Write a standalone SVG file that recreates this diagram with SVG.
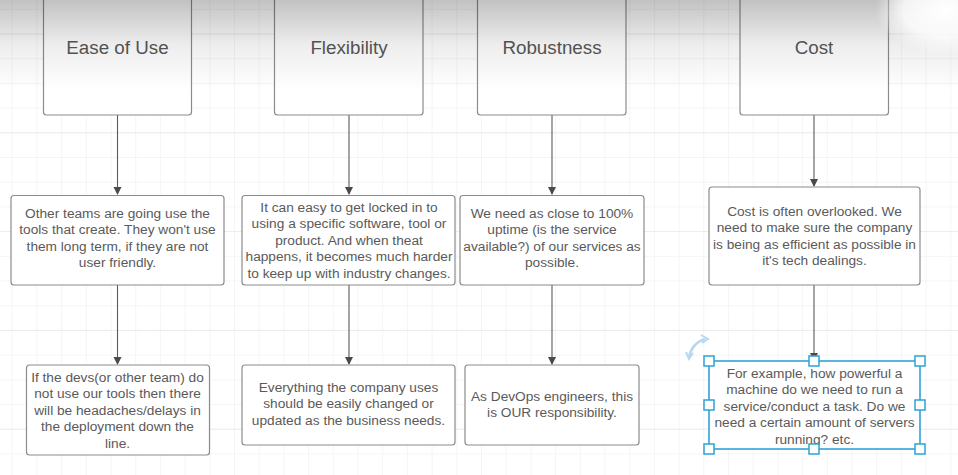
<svg xmlns="http://www.w3.org/2000/svg" width="958" height="475" viewBox="0 0 958 475">
<defs>
<pattern id="grid" x="11.7" y="8.8" width="24.7" height="24.7" patternUnits="userSpaceOnUse">
<path d="M0 0H24.7M0 0V24.7" fill="none" stroke="#ececec" stroke-width="1"/>
</pattern>
<pattern id="major" x="11.7" y="33.5" width="98.8" height="98.8" patternUnits="userSpaceOnUse">
<path d="M0 0H98.8" fill="none" stroke="#e2e2e2" stroke-width="1.2"/>
</pattern>
<linearGradient id="shade" x1="0" y1="0" x2="0" y2="1">
<stop offset="0" stop-color="#000" stop-opacity="0.24"/>
<stop offset="0.5" stop-color="#000" stop-opacity="0.07"/>
<stop offset="1" stop-color="#000" stop-opacity="0"/>
</linearGradient>
<radialGradient id="glow" cx="0.5" cy="0.5" r="0.5">
<stop offset="0" stop-color="#fff" stop-opacity="1"/>
<stop offset="0.6" stop-color="#fff" stop-opacity="0.8"/>
<stop offset="1" stop-color="#fff" stop-opacity="0"/>
</radialGradient>
<marker id="arr" markerWidth="8" markerHeight="9" refX="7" refY="4" orient="auto" markerUnits="userSpaceOnUse">
<path d="M0 0L8 4L0 8Z" fill="#4a4a4a"/>
</marker>
</defs>
<style>
.box{fill:#fff;stroke:#8c8c8c;stroke-width:1.2}
.title{font-family:"Liberation Sans",Arial,sans-serif;font-size:18.8px;fill:#585858;text-anchor:middle}
.t{font-family:"Liberation Sans",Arial,sans-serif;font-size:13.7px;fill:#5a5a5a;text-anchor:middle}
.conn{stroke:#5a5a5a;stroke-width:1.1;fill:none;marker-end:url(#arr)}
.sel{fill:none;stroke:#2fa3d6;stroke-width:1.6}
.h{fill:#fff;stroke:#2fa3d6;stroke-width:1.5}
</style>
<rect width="958" height="475" fill="#fff"/>
<rect width="958" height="475" fill="url(#grid)"/>
<rect width="958" height="475" fill="url(#major)"/>

<g id="connectors">
<line class="conn" x1="117.5" y1="115" x2="117.5" y2="194"/>
<line class="conn" x1="349" y1="115" x2="349" y2="194"/>
<line class="conn" x1="552" y1="115" x2="552" y2="194"/>
<line class="conn" x1="814" y1="115" x2="814" y2="186"/>
<line class="conn" x1="117.5" y1="285" x2="117.5" y2="364"/>
<line class="conn" x1="349" y1="285" x2="349" y2="364"/>
<line class="conn" x1="552" y1="285" x2="552" y2="364"/>
<line class="conn" x1="814" y1="285" x2="814" y2="360"/>
</g>

<g id="ease-of-use">
<rect class="box" x="43.5" y="-6" width="148" height="121" rx="3"/>
<text class="title" x="117.5" y="54">Ease of Use</text>
</g>
<g id="flexibility">
<rect class="box" x="274.5" y="-6" width="148.5" height="121" rx="3"/>
<text class="title" x="349" y="54">Flexibility</text>
</g>
<g id="robustness">
<rect class="box" x="477.5" y="-6" width="148.5" height="121" rx="3"/>
<text class="title" x="552" y="54">Robustness</text>
</g>
<g id="cost">
<rect class="box" x="740" y="-6" width="148.5" height="121" rx="3"/>
<text class="title" x="814" y="54">Cost</text>
</g>

<g id="ease-detail">
<rect class="box" x="11" y="195.5" width="213" height="89.5" rx="3"/>
<text class="t" x="117.5" y="217.5">Other teams are going use the</text>
<text class="t" x="117.5" y="234">tools that create. They won't use</text>
<text class="t" x="117.5" y="250.5">them long term, if they are not</text>
<text class="t" x="117.5" y="267">user friendly.</text>
</g>
<g id="flex-detail">
<rect class="box" x="242" y="195.5" width="213" height="89.5" rx="3"/>
<text class="t" x="349" y="211.5">It can easy to get locked in to</text>
<text class="t" x="349" y="228">using a specific software, tool or</text>
<text class="t" x="349" y="244.5">product. And when theat</text>
<text class="t" x="349" y="261">happens, it becomes much harder</text>
<text class="t" x="349" y="277.5">to keep up with industry changes.</text>
</g>
<g id="robust-detail">
<rect class="box" x="460" y="195.5" width="184" height="89.5" rx="3"/>
<text class="t" x="552" y="217.5">We need as close to 100%</text>
<text class="t" x="552" y="234">uptime (is the service</text>
<text class="t" x="552" y="250.5">available?) of our services as</text>
<text class="t" x="552" y="267">possible.</text>
</g>
<g id="cost-detail">
<rect class="box" x="709" y="187" width="211" height="98" rx="3"/>
<text class="t" x="814.5" y="215.5">Cost is often overlooked. We</text>
<text class="t" x="814.5" y="232">need to make sure the company</text>
<text class="t" x="814.5" y="248.5">is being as efficient as possible in</text>
<text class="t" x="814.5" y="265">it's tech dealings.</text>
</g>

<g id="ease-impact">
<rect class="box" x="26.5" y="365" width="183" height="90" rx="3"/>
<text class="t" x="117.5" y="381.5">If the devs(or other team) do</text>
<text class="t" x="117.5" y="398">not use our tools then there</text>
<text class="t" x="117.5" y="414.5">will be headaches/delays in</text>
<text class="t" x="117.5" y="431">the deployment down the</text>
<text class="t" x="117.5" y="447.5">line.</text>
</g>
<g id="flex-impact">
<rect class="box" x="242" y="365" width="213" height="80" rx="3"/>
<text class="t" x="348.5" y="391.5">Everything the company uses</text>
<text class="t" x="348.5" y="408">should be easily changed or</text>
<text class="t" x="348.5" y="424.5">updated as the business needs.</text>
</g>
<g id="robust-impact">
<rect class="box" x="465" y="365" width="174" height="80" rx="3"/>
<text class="t" x="552" y="400.5">As DevOps engineers, this</text>
<text class="t" x="552" y="417">is OUR responsibility.</text>
</g>
<g id="cost-impact">
<rect x="709" y="361" width="211" height="88" fill="#fff"/>
<text class="t" x="814.5" y="377.5">For example, how powerful a</text>
<text class="t" x="814.5" y="394">machine do we need to run a</text>
<text class="t" x="814.5" y="410.5">service/conduct a task. Do we</text>
<text class="t" x="814.5" y="427">need a certain amount of servers</text>
<text class="t" x="814.5" y="443.5">running? etc.</text>
<rect class="sel" x="709" y="361" width="211" height="88"/>
<rect class="h" x="704" y="356" width="10" height="10"/>
<rect class="h" x="809" y="356" width="10" height="10"/>
<rect class="h" x="915" y="356" width="10" height="10"/>
<rect class="h" x="704" y="400" width="10" height="10"/>
<rect class="h" x="915" y="400" width="10" height="10"/>
<rect class="h" x="704" y="444" width="10" height="10"/>
<rect class="h" x="809" y="444" width="10" height="10"/>
<rect class="h" x="915" y="444" width="10" height="10"/>
<path d="M689 357 Q692 343 705 339" fill="none" stroke="#b9d7ee" stroke-width="2.5"/>
<path d="M701 335 L708 339 L702 343" fill="none" stroke="#b9d7ee" stroke-width="2"/>
<path d="M686 352 L689 359 L693 353" fill="none" stroke="#b9d7ee" stroke-width="2"/>
</g>

<rect x="0" y="0" width="958" height="90" fill="url(#shade)" pointer-events="none"/>
<ellipse cx="945" cy="10" rx="70" ry="45" fill="url(#glow)"/>
</svg>
